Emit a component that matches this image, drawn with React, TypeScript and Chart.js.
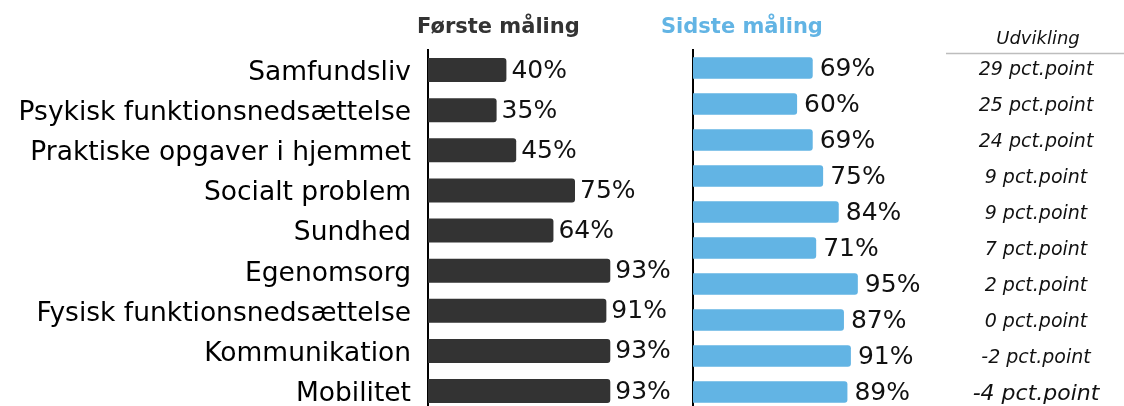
import React, { useEffect, useRef } from 'react';
import { Chart, registerables } from 'chart.js';

Chart.register(...registerables);

const categories = [
  'Samfundsliv',
  'Psykisk funktionsnedsættelse',
  'Praktiske opgaver i hjemmet',
  'Socialt problem',
  'Sundhed',
  'Egenomsorg',
  'Fysisk funktionsnedsættelse',
  'Kommunikation',
  'Mobilitet',
];
const firstValues = [40, 35, 45, 75, 64, 93, 91, 93, 93];
const lastValues = [69, 60, 69, 75, 84, 71, 95, 87, 91, 89];
const developmentValues = [29, 25, 24, 9, 9, 7, 2, 0, -2, -4];
const titleFirst = 'Første måling';
const titleLast = 'Sidste måling';
const devHeader = 'Udvikling';
const devUnit = 'pct.point';

const FONT = '"DejaVu Sans", Verdana, sans-serif';
const DARK = '#333333';
const BLUE = '#62B4E4';

const LEFT_W = 690;
const LEFT_H = 444;
const RIGHT_X = 600;
const RIGHT_W = 524;
const H = 412;

function valueLabels(id: string, gap: number, title: string, titleX: number, titleColor: string) {
  return {
    id,
    afterDatasetsDraw(chart: any) {
      const ctx = chart.ctx;
      const meta = chart.getDatasetMeta(0);
      const data = chart.data.datasets[0].data;
      ctx.save();
      ctx.font = `25px ${FONT}`;
      ctx.fillStyle = '#111';
      ctx.textAlign = 'left';
      ctx.textBaseline = 'middle';
      meta.data.forEach((el: any, i: number) => {
        ctx.fillText(`${data[i]}%`, el.x + gap, el.y + 1);
      });
      ctx.font = `bold 21px ${FONT}`;
      ctx.fillStyle = titleColor;
      ctx.textBaseline = 'alphabetic';
      ctx.fillText(title, titleX, 33);
      ctx.restore();
    },
  };
}

const DEV_X = 1036 - RIGHT_X;

const devPlugin = {
  id: 'devColumn',
  afterDraw(chart: any) {
    const ctx = chart.ctx;
    const y = chart.scales.y;
    ctx.save();
    ctx.fillStyle = '#111';
    ctx.textAlign = 'center';
    ctx.textBaseline = 'middle';
    ctx.font = `italic 18px ${FONT}`;
    ctx.fillText(devHeader, DEV_X + 2, 39);
    ctx.strokeStyle = '#bdbdbd';
    ctx.lineWidth = 1.5;
    ctx.beginPath();
    ctx.moveTo(946 - RIGHT_X, 53.5);
    ctx.lineTo(chart.width, 53.5);
    ctx.stroke();
    developmentValues.forEach((v, i) => {
      const last = i === developmentValues.length - 1;
      ctx.font = `italic ${last ? 22 : 19}px ${FONT}`;
      ctx.fillText(`${v} ${devUnit}`, DEV_X, y.getPixelForValue(i) + 2);
    });
    ctx.restore();
  },
};

export default function App() {
  const leftRef = useRef<HTMLCanvasElement | null>(null);
  const rightRef = useRef<HTMLCanvasElement | null>(null);

  useEffect(() => {
    if (!leftRef.current || !rightRef.current) return;
    const left = new Chart(leftRef.current, {
      type: 'bar',
      data: {
        labels: categories,
        datasets: [
          {
            data: firstValues,
            backgroundColor: DARK,
            borderRadius: 3,
            borderSkipped: 'start',
            barPercentage: 0.6,
            categoryPercentage: 1,
          },
        ],
      },
      options: {
        responsive: false,
        animation: false,
        indexAxis: 'y',
        layout: { padding: { top: 50, bottom: 2, left: 0, right: LEFT_W - 624 } },
        plugins: { legend: { display: false }, tooltip: { enabled: false } },
        scales: {
          x: { display: false, min: 0, max: 100 },
          y: {
            position: 'left',
            grid: { display: false, drawTicks: false },
            border: { display: true, color: '#000', width: 2 },
            ticks: {
              autoSkip: false,
              padding: 17,
              labelOffset: 3,
              color: '#000',
              font: { family: FONT, size: 26.5 },
            },
            afterFit: (s: any) => {
              s.width = 428;
            },
          },
        },
      } as any,
      plugins: [valueLabels('leftLabels', 5, titleFirst, 417, '#333333')],
    });

    const right = new Chart(rightRef.current, {
      type: 'bar',
      data: {
        labels: lastValues.map((_, i) => String(i + 1)),
        datasets: [
          {
            data: lastValues,
            backgroundColor: BLUE,
            borderRadius: 3,
            borderSkipped: 'start',
            barPercentage: 0.6,
            categoryPercentage: 1,
          },
        ],
      },
      options: {
        responsive: false,
        animation: false,
        indexAxis: 'y',
        layout: { padding: { top: 50, bottom: 2, left: 693 - RIGHT_X, right: RIGHT_W - (866.5 - RIGHT_X) } },
        plugins: { legend: { display: false }, tooltip: { enabled: false } },
        scales: {
          x: { display: false, min: 0, max: 100 },
          y: {
            position: 'left',
            grid: { display: false, drawTicks: false },
            border: { display: true, color: '#000', width: 2 },
            ticks: { display: false },
            afterFit: (s: any) => {
              s.width = 0;
            },
          },
        },
      } as any,
      plugins: [valueLabels('rightLabels', 7, titleLast, 661 - RIGHT_X, BLUE), devPlugin],
    });

    return () => {
      left.destroy();
      right.destroy();
    };
  }, []);

  return (
    <div
      style={{
        position: 'fixed',
        left: 0,
        top: 0,
        width: 1124,
        height: 406,
        overflow: 'hidden',
        background: '#fff',
      }}
    >
      <canvas
        ref={leftRef}
        width={LEFT_W}
        height={LEFT_H}
        style={{ position: 'absolute', left: 0, top: 0, width: LEFT_W, height: LEFT_H }}
      />
      <canvas
        ref={rightRef}
        width={RIGHT_W}
        height={H}
        style={{ position: 'absolute', left: RIGHT_X, top: 0, width: RIGHT_W, height: H }}
      />
    </div>
  );
}
